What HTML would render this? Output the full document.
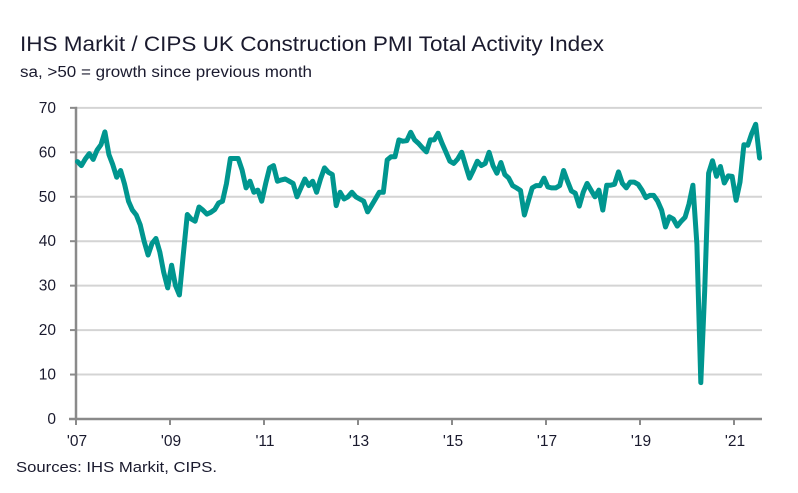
<!DOCTYPE html>
<html><head><meta charset="utf-8"><style>
body{margin:0;background:#fff;}
svg{display:block;font-family:"Liberation Sans",sans-serif;}
</style></head><body>
<svg id="chart" width="798" height="493">
<text x="20" y="51" font-size="21" textLength="584" lengthAdjust="spacingAndGlyphs" fill="#1a1a2e">IHS Markit / CIPS UK Construction PMI Total Activity Index</text>
<text x="20" y="77" font-size="15.5" textLength="292" lengthAdjust="spacingAndGlyphs" fill="#1a1a2e">sa, &gt;50 = growth since previous month</text>
<text x="16" y="472" font-size="15" textLength="201" lengthAdjust="spacingAndGlyphs" fill="#1a1a2e">Sources: IHS Markit, CIPS.</text>
<g id="grid"></g><g id="axes"></g><g id="series"></g>
</svg>
<script>
const yTicks=[0,10,20,30,40,50,60,70];
const xTickLabels=["'07","'09","'11","'13","'15","'17","'19","'21"];
const xTickYears=[2007,2009,2011,2013,2015,2017,2019,2021];
const startYear=2007;
const pmiValues=[
57.9,57.0,58.5,59.7,58.4,60.5,61.7,64.6,59.5,57.2,54.4,55.9,
52.9,49,47,45.9,43.7,40,36.9,39.5,40.6,37.6,33,29.5,
34.6,30,27.9,37,46,45,44.5,47.7,47,46.1,46.5,47.1,
48.6,49,53,58.6,58.6,58.6,56,52,53.5,51,51.5,49,
53,56.5,57,53.5,53.8,54,53.5,53,50,52,54,52.5,
53.5,51,54,56.5,55.5,55,48,51,49.5,50,51,50,
49.5,49,46.6,48,49.5,51,51,58.3,59,59,62.8,62.5,
62.6,64.5,62.8,62,61,60.1,62.8,62.8,64.3,62,60,58,
57.5,58.5,60,57,54.2,56,58,57,57.5,60,57,55.3,
57.7,55,54.2,52.5,52,51.4,45.9,49,52,52.5,52.5,54.2,
52.2,52,52,52.5,55.9,53.5,51.3,50.8,47.9,51,53,51.5,
50,51.5,47,52.6,52.6,52.8,55.6,53,52,53.3,53.3,52.8,
51.5,49.8,50.3,50.3,49,47,43.2,45.5,45,43.4,44.5,45.4,
48.4,52.6,39.3,8.2,28.9,55.3,58.1,54.6,56.8,53.1,54.7,54.6,
49.2,53.3,61.7,61.6,64.2,66.3,58.7];
const NS="http://www.w3.org/2000/svg";
const X0=77.5,MW=3.92,Y0=419,YU=4.445,XR=762;
const xs=i=>X0+i*MW, ys=v=>Y0-v*YU;
function mk(t,a,p){const e=document.createElementNS(NS,t);for(const k in a)e.setAttribute(k,a[k]);p.appendChild(e);return e;}
const grid=document.getElementById('grid'),axes=document.getElementById('axes'),ser=document.getElementById('series');
yTicks.forEach(v=>{
 if(v>0){const g=mk('line',{x1:76,x2:XR,y1:ys(v),y2:ys(v),stroke:'#d4d4d4','stroke-width':2},grid);
 
 }
 const tk=mk('line',{x1:70,x2:77,y1:ys(v),y2:ys(v),stroke:'#8a8a8a','stroke-width':2},axes);
 
 
 const t=mk('text',{x:56,y:ys(v)+5,'text-anchor':'end','font-size':15.5,fill:'#1a1a2e'},axes);t.textContent=v;
 
 
});
const ya=mk('line',{x1:76,x2:76,y1:ys(70)-1,y2:Y0,stroke:'#8a8a8a','stroke-width':2.5},axes);


const xa=mk('line',{x1:69,x2:XR,y1:Y0,y2:Y0,stroke:'#8a8a8a','stroke-width':2.5},axes);


xTickYears.forEach((yr,k)=>{
 const x=76+(yr-startYear)*47;
 const tk=mk('line',{x1:x,x2:x,y1:Y0,y2:Y0+6,stroke:'#8a8a8a','stroke-width':2},axes);
 
 
 const t=mk('text',{x:x+1,y:Y0+27,'text-anchor':'middle','font-size':15.5,fill:'#1a1a2e'},axes);t.textContent=xTickLabels[k];
 
 
});
const d=pmiValues.map((v,i)=>(i?'L':'M')+xs(i).toFixed(1)+','+ys(v).toFixed(1)).join(' ');
const p=mk('path',{d:d,fill:'none',stroke:'#00968f','stroke-width':5,'stroke-linejoin':'round','stroke-linecap':'round'},ser);


</script>
</body></html>
